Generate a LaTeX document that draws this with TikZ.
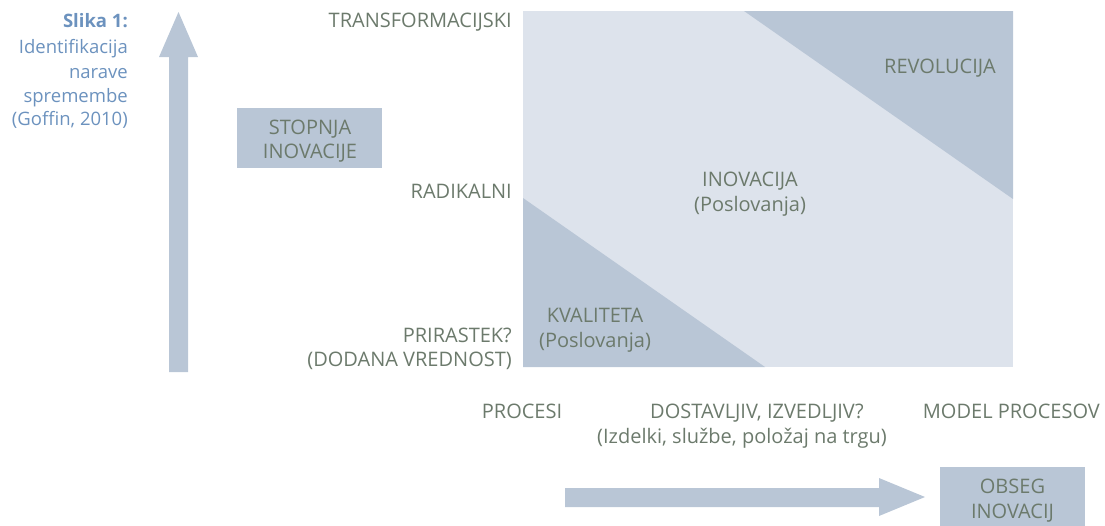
\documentclass[tikz,border=0pt]{standalone}
\usepackage{fontspec}
\setmainfont{Open Sans}
\definecolor{txt}{RGB}{108,122,108}
\definecolor{cap}{RGB}{108,146,190}
\definecolor{lightfill}{RGB}{221,227,236}
\definecolor{darkfill}{RGB}{185,198,214}
\tikzset{
  lbl/.style={inner sep=0pt, text=txt, font=\fontsize{20}{24}\selectfont},
  caplbl/.style={inner sep=0pt, text=cap, font=\fontsize{18.5}{24}\selectfont, anchor=base east},
  boxlbl/.style={fill=darkfill, draw=none, minimum width=145pt, minimum height=60pt, inner sep=0pt},
  arrowfill/.style={fill=darkfill, draw=none}
}
\begin{document}
\begin{tikzpicture}[x=1pt,y=-1pt]
\useasboundingbox (0,0) rectangle (1105,525);
% caption
\node[caplbl, font=\fontsize{18.5}{24}\selectfont\bfseries] (c1) at (128,27) {Slika 1:};
\node[caplbl] (c2) at (128,53) {Identifikacija};
\node[caplbl] (c3) at (128,78) {narave};
\node[caplbl] (c4) at (128,102) {spremembe};
\node[caplbl] (c5) at (128,125) {(Goffin, 2010)};
% vertical arrow
\fill[arrowfill] (169,372) -- (169,57) -- (159,57) -- (178.5,12) -- (198,57) -- (188,57) -- (188,372) -- cycle;
% stopnja box
\node[boxlbl, anchor=north west] (stop) at (237,108) {};
\node[lbl, anchor=base] (s1) at (310,134) {STOPNJA};
\node[lbl, anchor=base] (s2) at (310,158) {INOVACIJE};
% matrix
\fill[lightfill] (523,11) rectangle (1013,367);
\fill[darkfill] (744,11) -- (1013,11) -- (1013,199) -- cycle;
\fill[darkfill] (523,198) -- (765,367) -- (523,367) -- cycle;
% level labels
\node[lbl, anchor=base east] (l1) at (512,27) {TRANSFORMACIJSKI};
\node[lbl, anchor=base east] (l2) at (512,198) {RADIKALNI};
\node[lbl, anchor=base east] (l3) at (512,342) {PRIRASTEK?};
\node[lbl, anchor=base east] (l4) at (512,366) {(DODANA VREDNOST)};
% region labels
\node[lbl, anchor=base] (r1) at (940,73) {REVOLUCIJA};
\node[lbl, anchor=base] (i1) at (750,186) {INOVACIJA};
\node[lbl, anchor=base] (i2) at (750,211) {(Poslovanja)};
\node[lbl, anchor=base] (k1) at (595,322) {KVALITETA};
\node[lbl, anchor=base] (k2) at (595,347) {(Poslovanja)};
% scope labels
\node[lbl, anchor=base] (p1) at (522,418) {PROCESI};
\node[lbl, anchor=base] (d1) at (757,418) {DOSTAVLJIV, IZVEDLJIV?};
\node[lbl, anchor=base] (d2) at (742,443) {(Izdelki, službe, položaj na trgu)};
\node[lbl, anchor=base east] (m1) at (1100,418) {MODEL PROCESOV};
% horizontal arrow
\fill[arrowfill] (565,488) -- (879,488) -- (879,478) -- (925,497) -- (879,516) -- (879,507) -- (565,507) -- cycle;
% obseg box
\node[boxlbl, anchor=north west] (obs) at (940,467) {};
\node[lbl, anchor=base] (o1) at (1012.5,493) {OBSEG};
\node[lbl, anchor=base] (o2) at (1012.5,518) {INOVACIJ};
\end{tikzpicture}
\end{document}
